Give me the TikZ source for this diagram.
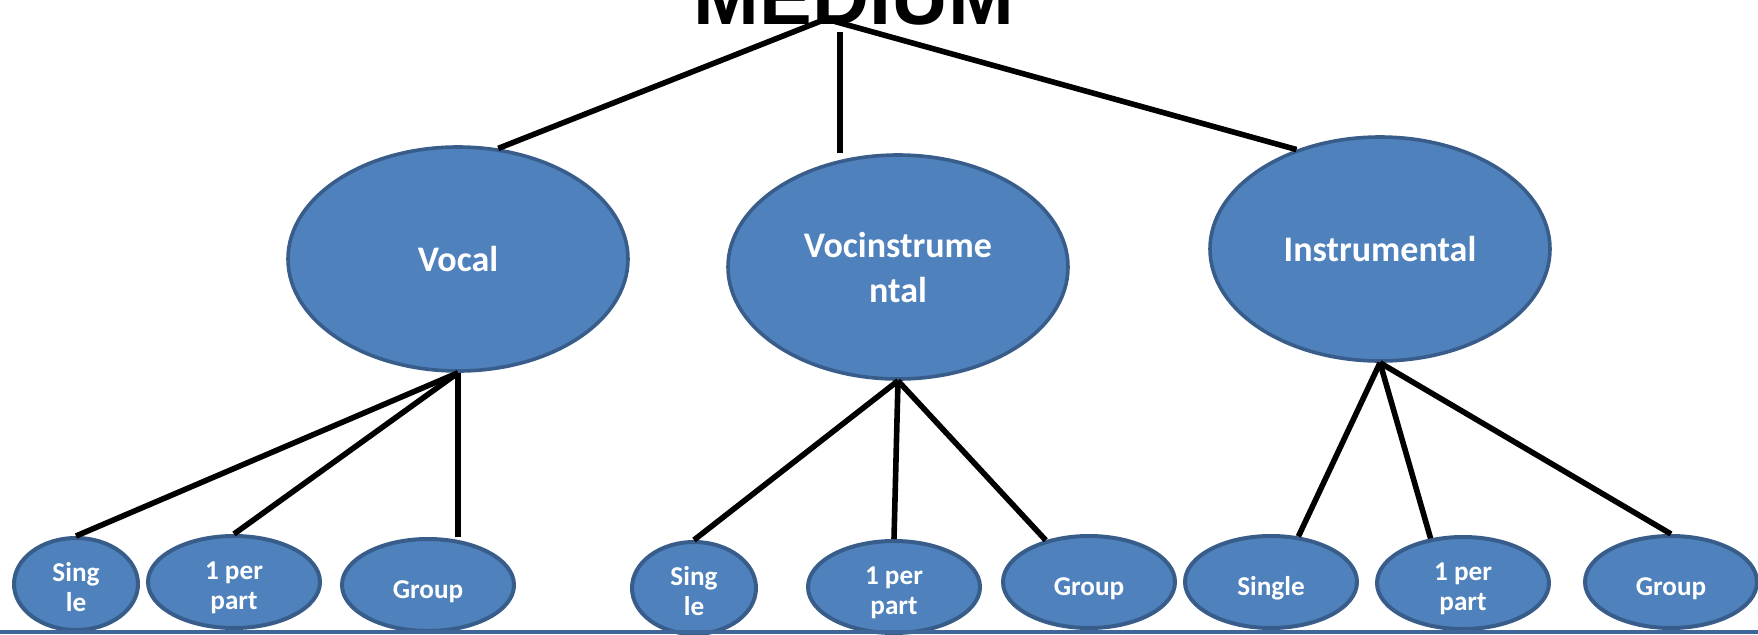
\documentclass[tikz,border=0pt]{standalone}
\usepackage{fontspec}
\setmainfont{Carlito}
\newfontfamily\TitleFont{Liberation Sans}
\usetikzlibrary{shapes.geometric}
\definecolor{NodeClr}{RGB}{79,129,189}
\definecolor{EdgeClr}{RGB}{56,93,138}
\definecolor{BaseClr}{RGB}{62,102,153}

\begin{document}
\begin{tikzpicture}[x=.5pt,y=-.5pt,
  BigOval/.style={ellipse,fill=NodeClr,draw=EdgeClr,line width=1.8pt,inner sep=0pt,
    minimum width=170pt,minimum height=112pt,text=white,align=center,
    font=\bfseries\fontsize{18}{22.5}\selectfont},
  SmallOval/.style={ellipse,fill=NodeClr,draw=EdgeClr,line width=2pt,inner sep=0pt,
    minimum width=86pt,minimum height=46pt,text=white,align=center,
    text depth=0pt,text height=13pt,
    font=\bfseries\fontsize{13.6}{15}\selectfont},
  TwoLine/.style={text height=27pt},
  Branch/.style={line width=2.8pt,black}]
\useasboundingbox (0,0) rectangle (1758,634);

\node[anchor=base,font=\TitleFont\bfseries\fontsize{39.5}{40}\selectfont] (medium) at (854,24) {MEDIUM};

\node[BigOval] (vocal) at (458,259) {Vocal};
\node[BigOval] (vocin) at (898,267) {Vocinstrume\\ntal};
\node[BigOval] (instr) at (1380,249) {Instrumental};

\node[SmallOval,TwoLine,minimum width=62pt] (vsingle) at (76,584) {Sing\\le};
\node[SmallOval,TwoLine] (vpart) at (234,582) {1 per\\part};
\node[SmallOval] (vgroup) at (428,585) {Group};
\node[SmallOval,TwoLine,minimum width=62pt] (visingle) at (694,588) {Sing\\le};
\node[SmallOval,TwoLine] (vipart) at (894,587) {1 per\\part};
\node[SmallOval] (vigroup) at (1089,582) {Group};
\node[SmallOval] (isingle) at (1271,582) {Single};
\node[SmallOval,TwoLine] (ipart) at (1463,583) {1 per\\part};
\node[SmallOval] (igroup) at (1671,582) {Group};

\coordinate (hub) at (826,19);
\coordinate (stem) at (840,32);

\draw[Branch] (hub) -- (vocal.70);
\draw[Branch] (stem) -- (stem |- vocin.north);
\draw[Branch] (hub) -- (instr.130);

\draw[Branch] (vocal.south) -- (vsingle.north);
\draw[Branch] (vocal.south) -- (vpart.north);
\draw[Branch] (vocal.south) -- (vocal.south |- vgroup.north);

\draw[Branch] (vocin.south) -- (visingle.north);
\draw[Branch] (vocin.south) -- (vipart.north);
\draw[Branch] (vocin.south) -- (vigroup.136);

\draw[Branch] (instr.south) -- (isingle.59);
\draw[Branch] (instr.south) -- (ipart.126);
\draw[Branch] (instr.south) -- (igroup.north);

\draw[BaseClr,line width=2pt] (0,632) -- (1758,632);

\end{tikzpicture}
\end{document}
